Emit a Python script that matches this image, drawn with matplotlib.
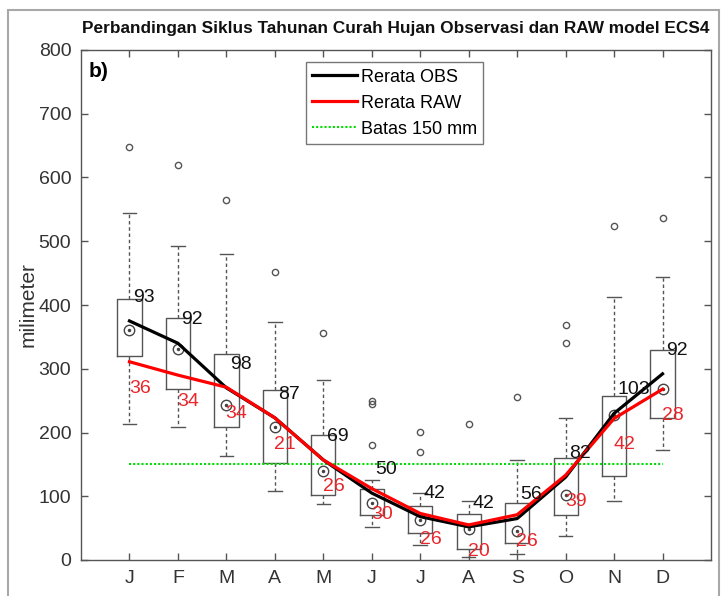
import matplotlib
matplotlib.use("Agg")
import matplotlib.pyplot as plt
from matplotlib.patches import Rectangle

plt.rcParams['font.family'] = ['Liberation Sans', 'DejaVu Sans']

# Monthly rainfall distribution (mm)
months = ["J", "F", "M", "A", "M", "J", "J", "A", "S", "O", "N", "D"]
q1 = [320, 269, 208, 152, 102, 71, 43, 18, 26, 71, 131, 222]
q3 = [410, 379, 323, 267, 196, 112, 85, 72, 89, 160, 258, 330]
median = [361, 331, 243, 208, 139, 90, 62, 48, 46, 102, 227, 268]
whisker_lo = [213, 208, 163, 109, 88, 52, 24, 5, 10, 37, 92, 173]
whisker_hi = [544, 493, 480, 374, 282, 125, 105, 92, 157, 222, 412, 444]
outliers = [[648], [620], [565], [451], [356], [180, 244, 250], [169, 201],
            [213], [255], [341, 369], [524], [536]]

# Monthly means: observation and raw model
obs_mean = [375, 340, 270, 223, 157, 105, 68, 52, 65, 130, 230, 292]
raw_mean = [311, 290, 271, 223, 157, 112, 73, 55, 71, 133, 222, 268]
obs_labels = [93, 92, 98, 87, 69, 50, 42, 42, 56, 82, 103, 92]
raw_labels = [36, 34, 34, 21, 26, 30, 26, 20, 26, 39, 42, 28]
threshold = 150

fig = plt.figure(figsize=(7.25, 5.96), dpi=100)
ax = fig.add_axes([81 / 725, 36 / 596, 630 / 725, 510 / 596])

x = list(range(1, len(months) + 1))
grey = '#555555'

stats = []
for i in range(len(months)):
    stats.append(dict(med=median[i], q1=q1[i], q3=q3[i],
                      whislo=whisker_lo[i], whishi=whisker_hi[i],
                      fliers=outliers[i]))

ax.bxp(stats, positions=x, widths=0.5, capwidths=0.28, showfliers=True,
       boxprops=dict(color=grey, lw=1.0),
       whiskerprops=dict(color=grey, lw=1.0, ls=(0, (2.5, 2))),
       capprops=dict(color=grey, lw=1.0),
       medianprops=dict(lw=0),
       flierprops=dict(marker='o', mfc='none', mec=grey, ms=4.5, mew=1.0),
       manage_ticks=False, zorder=2)

# median "target" symbols
ax.plot(x, median, 'o', mfc='none', mec='#444444', ms=7.5, mew=1.0, ls='none', zorder=3)
ax.plot(x, median, '.', color='#444444', ms=3, ls='none', zorder=3)

ax.plot(x, obs_mean, color='black', lw=2.3, label='Rerata OBS', zorder=5)
ax.plot(x, raw_mean, color='red', lw=2.3, label='Rerata RAW', zorder=6)
ax.plot([x[0], x[-1]], [threshold, threshold], color='#00dd00', lw=1.5,
        ls=(0, (1, 1)), label='Batas 150 mm', zorder=4)

for xi, yv, lab in zip(x, obs_mean, obs_labels):
    ax.annotate(str(lab), (xi, yv), xytext=(2.5, 17), textcoords='offset points',
                ha='left', va='center', fontsize=14, color='#111111', zorder=7)
for xi, yv, lab in zip(x, raw_mean, raw_labels):
    ax.annotate(str(lab), (xi, yv), xytext=(-0.5, -19), textcoords='offset points',
                ha='left', va='center', fontsize=14, color='#e8262b', zorder=7)

ax.set_xlim(0, 13)
ax.set_ylim(0, 800)
ax.set_xticks(x)
ax.set_xticklabels(months)
ax.set_yticks(range(0, 801, 100))
ax.tick_params(direction='in', length=5, width=1, colors=grey, labelcolor='#333333',
               labelsize=14, top=True, right=True, pad=7)
for s in ax.spines.values():
    s.set_color(grey)
    s.set_linewidth(1.0)

ax.set_ylabel('milimeter', fontsize=15, color='#333333', labelpad=1)
ax.set_title('Perbandingan Siklus Tahunan Curah Hujan Observasi dan RAW model ECS4',
             fontsize=12.4, fontweight='bold', color='#111111', pad=12)
ax.text(0.012, 0.957, 'b)', transform=ax.transAxes, fontsize=15, fontweight='bold',
        ha='left', va='center', color='black')

leg = ax.legend(loc='upper center', bbox_to_anchor=(0.4976, 0.976), fontsize=13,
                frameon=True, fancybox=False, handlelength=2.5, handletextpad=0.2,
                borderpad=0.35, labelspacing=0.5, borderaxespad=0)
leg.get_frame().set_edgecolor(grey)
leg.get_frame().set_linewidth(1.0)

fig.add_artist(Rectangle((8 / 725, -0.02), (719 - 8) / 725, 1.003, transform=fig.transFigure,
                         fill=False, edgecolor='#a8a8a8', lw=1.5))

fig.savefig('out.png', dpi=100)
